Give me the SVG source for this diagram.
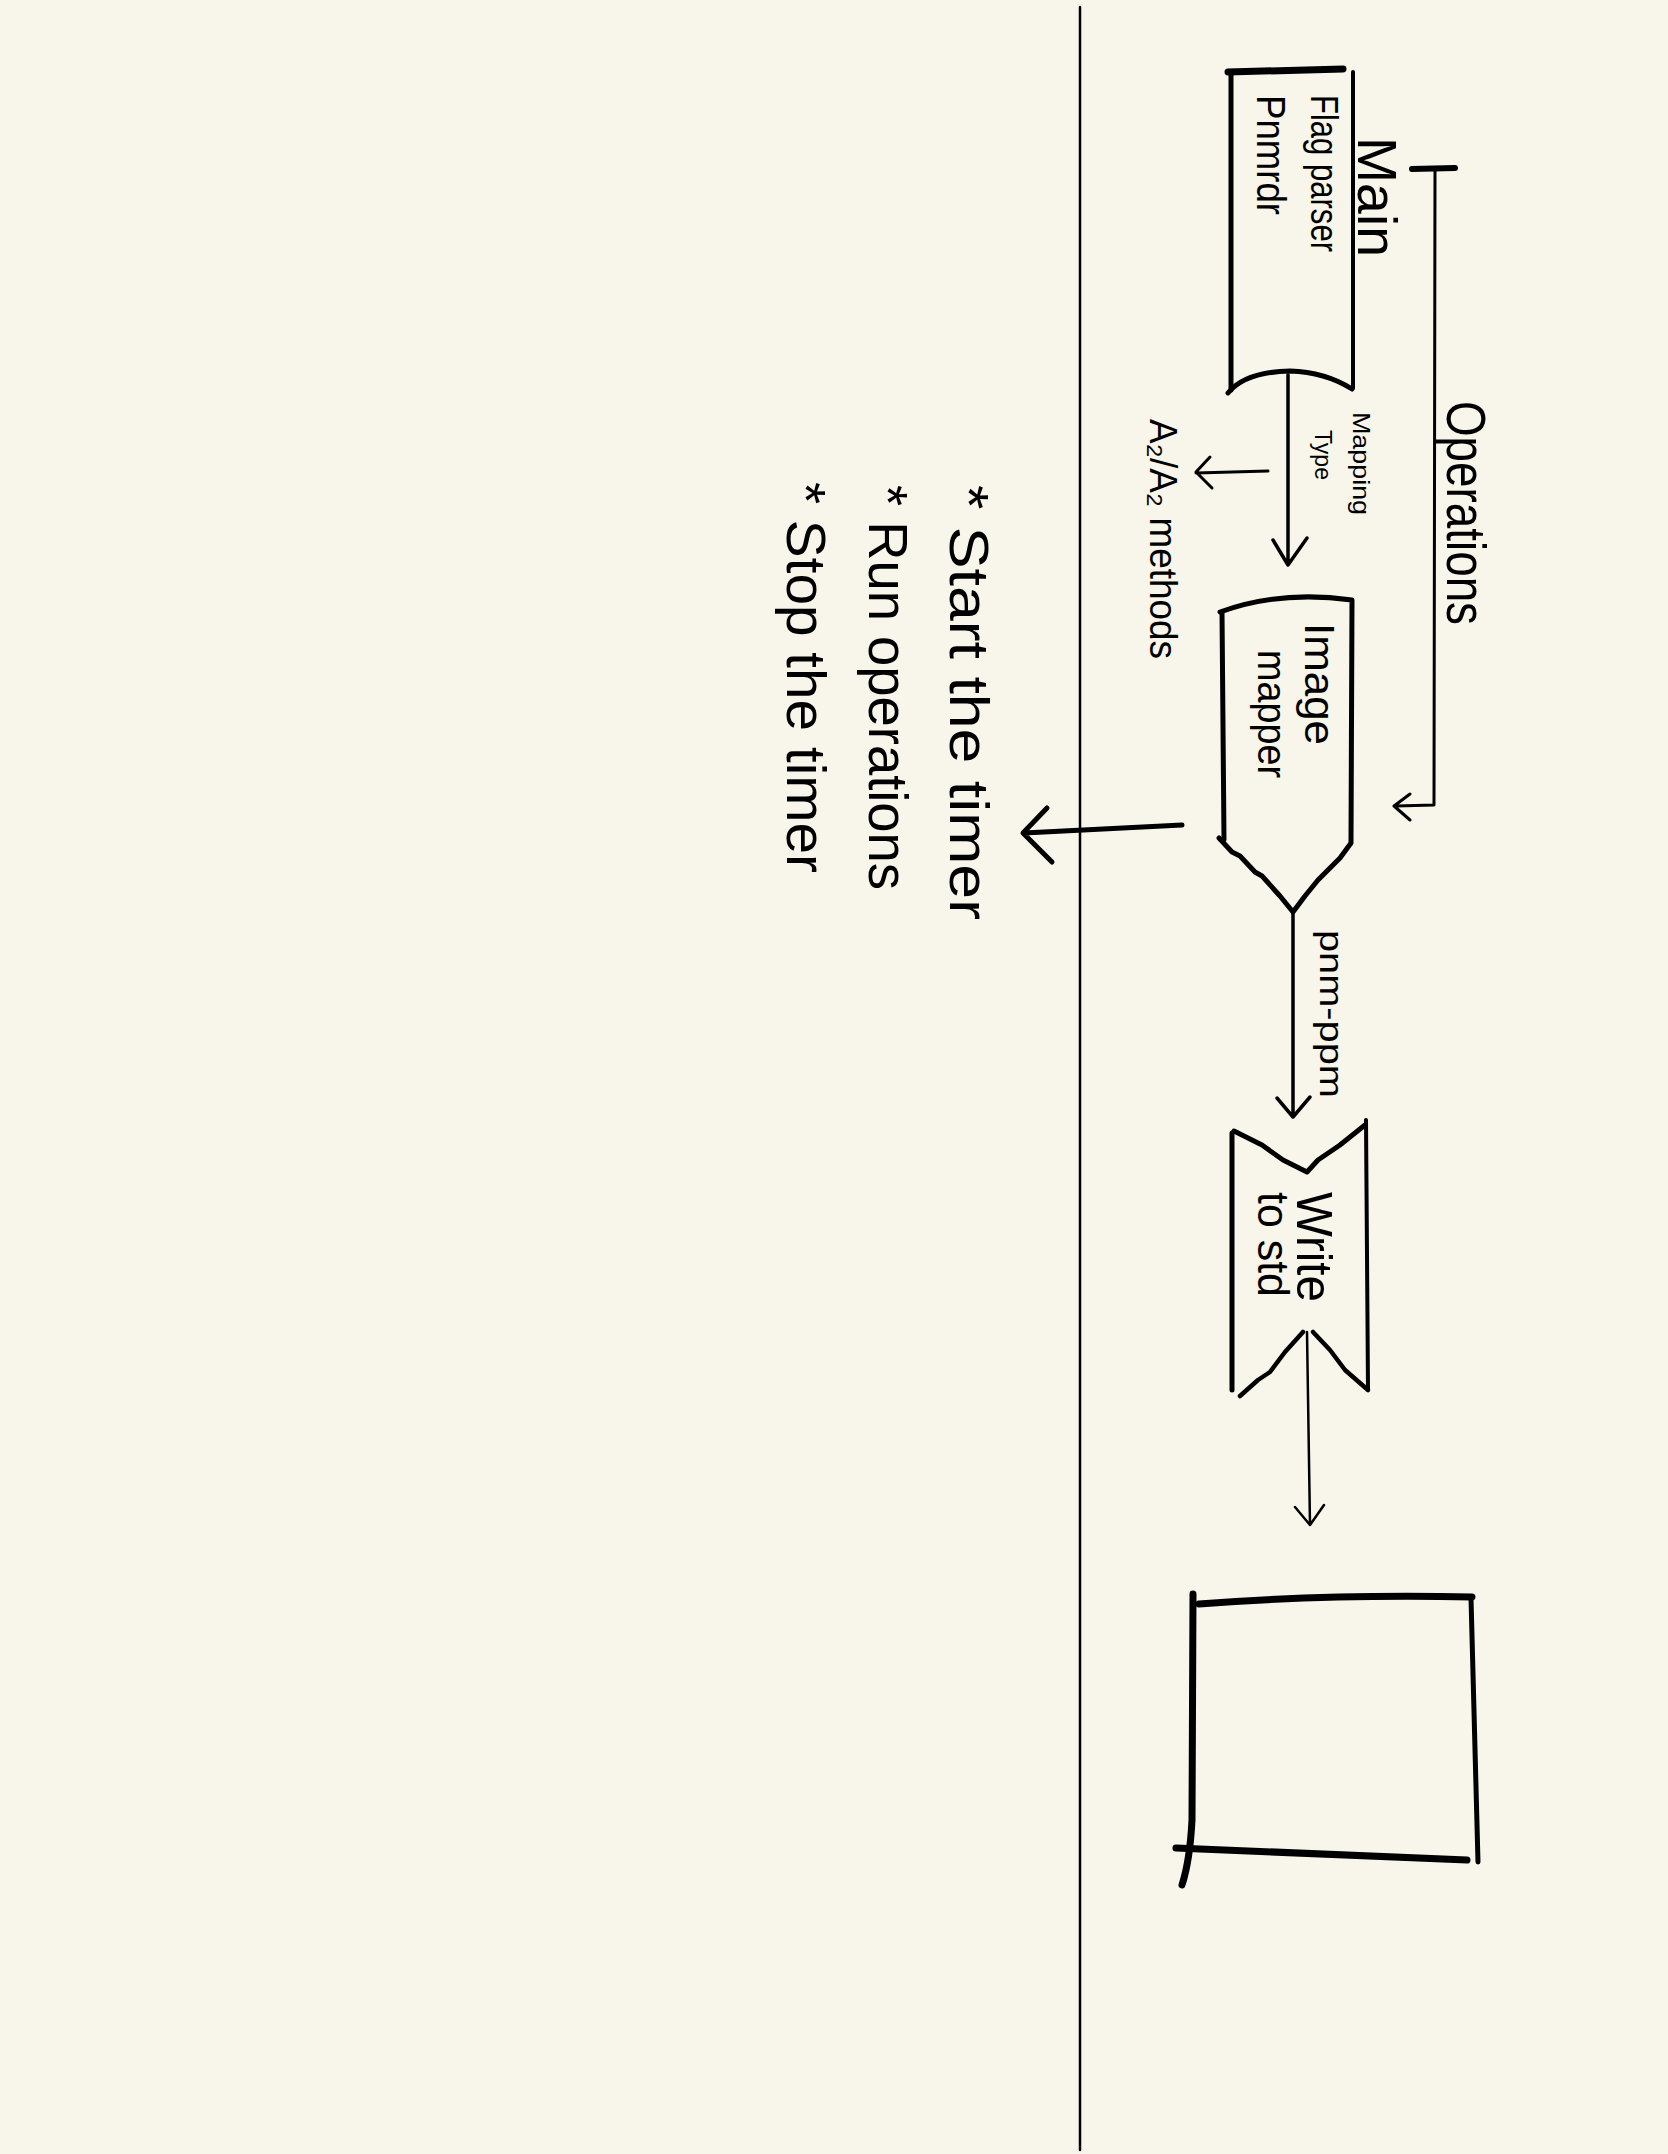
<svg xmlns="http://www.w3.org/2000/svg" width="1668" height="2154" viewBox="0 0 1668 2154">
<style>
.ln{fill:none;stroke:#000;stroke-linecap:round;stroke-linejoin:round}
.t{font-family:"Liberation Sans","DejaVu Sans",sans-serif;fill:#000}
</style>
<rect x="0" y="0" width="1668" height="2154" fill="#F8F5EA"/>
<path class="ln" d="M1080,7 L1080,2150" stroke-width="2.5"/>

<g id="main">
<path class="ln" d="M1228,72 L1343,69" stroke-width="7"/>
<path class="ln" d="M1353,72 L1353,388" stroke-width="4"/>
<path class="ln" d="M1231,72 L1231,390" stroke-width="5"/>
<path class="ln" d="M1228,393 Q1245,372 1290,371 Q1325,372 1352,389" stroke-width="5"/>
<text class="t" font-size="56" transform="translate(1358,137) rotate(90)" textLength="120" lengthAdjust="spacingAndGlyphs">Main</text>
<text class="t" font-size="38" transform="translate(1311,95) rotate(90)" textLength="157" lengthAdjust="spacingAndGlyphs">Flag parser</text>
<text class="t" font-size="40" transform="translate(1257,95) rotate(90)" textLength="120" lengthAdjust="spacingAndGlyphs">Pnmrdr</text>
</g>

<g id="image-mapper">
<path class="ln" d="M1220,612 Q1280,590 1352,600 L1351,843 L1340,858 L1330,868 L1318,880 L1305,896 L1293,912 L1280,896 L1262,876 L1255,872 L1240,856 L1232,852 L1219,838" stroke-width="5"/>
<path class="ln" d="M1222,612 L1224,840" stroke-width="5"/>
<text class="t" font-size="42" transform="translate(1305,623) rotate(90)" textLength="122" lengthAdjust="spacingAndGlyphs">Image</text>
<text class="t" font-size="40" transform="translate(1258,650) rotate(90)" textLength="128" lengthAdjust="spacingAndGlyphs">mapper</text>
</g>

<g id="write-to-std">
<path class="ln" d="M1232,1133 L1232,1390" stroke-width="5"/>
<path class="ln" d="M1366,1120 L1368,1390" stroke-width="4"/>
<path class="ln" d="M1234,1131 L1262,1145 L1283,1160 L1307,1172 L1318,1160 L1340,1145 L1365,1125" stroke-width="5"/>
<path class="ln" d="M1240,1396 L1258,1380 L1270,1372 L1285,1352 L1303,1332" stroke-width="4.5"/>
<path class="ln" d="M1313,1332 L1330,1350 L1345,1370 L1368,1390" stroke-width="4.5"/>
<text class="t" font-size="50" transform="translate(1297,1192) rotate(90)" textLength="110" lengthAdjust="spacingAndGlyphs">Write</text>
<text class="t" font-size="44" transform="translate(1258,1192) rotate(90)" textLength="105" lengthAdjust="spacingAndGlyphs">to std</text>
</g>

<g id="output-box">
<path class="ln" d="M1199,1604 Q1330,1594 1472,1597" stroke-width="7"/>
<path class="ln" d="M1193,1594 L1192,1820 Q1190,1860 1182,1885" stroke-width="7"/>
<path class="ln" d="M1471,1598 L1478,1862" stroke-width="5"/>
<path class="ln" d="M1176,1848 L1467,1860" stroke-width="7"/>
</g>

<g id="timer-notes">
<text class="t" font-size="56" transform="translate(950,485) rotate(90)" textLength="435" lengthAdjust="spacingAndGlyphs">* Start  the  timer</text>
<text class="t" font-size="56" transform="translate(869,485) rotate(90)" textLength="405" lengthAdjust="spacingAndGlyphs">* Run  operations</text>
<text class="t" font-size="56" transform="translate(787,482) rotate(90)" textLength="391" lengthAdjust="spacingAndGlyphs">* Stop the timer</text>
</g>

<g id="connectors">
<path class="ln" d="M1288,375 L1288,565 M1273,540 L1288,565 L1307,538" stroke-width="3.5"/>
<text class="t" font-size="24" transform="translate(1353,412) rotate(90)" textLength="103" lengthAdjust="spacingAndGlyphs">Mapping</text>
<text class="t" font-size="24" transform="translate(1315,430) rotate(90)" textLength="50" lengthAdjust="spacingAndGlyphs">Type</text>
<path class="ln" d="M1268,471 L1196,473 M1210,457 L1196,472 L1212,488" stroke-width="3"/>
<text class="t" font-size="38" transform="translate(1150,419) rotate(90)" textLength="240" lengthAdjust="spacingAndGlyphs">A₂/A₂ methods</text>
<path class="ln" d="M1412,169 L1455,168" stroke-width="6"/>
<path class="ln" d="M1435,169 L1434,805 L1396,806 M1410,794 L1394,806 L1410,820" stroke-width="3"/>
<text class="t" font-size="56" transform="translate(1447,401) rotate(90)" textLength="224" lengthAdjust="spacingAndGlyphs">Operations</text>
<path class="ln" d="M1182,825 L1024,833 M1047,808 L1023,833 L1052,862" stroke-width="5"/>
<path class="ln" d="M1293,912 L1293,1117 M1277,1098 L1293,1117 L1310,1097" stroke-width="3.5"/>
<text class="t" font-size="34" transform="translate(1320,930) rotate(90)" textLength="168" lengthAdjust="spacingAndGlyphs">pnm-ppm</text>
<path class="ln" d="M1307,1332 L1310,1525 M1295,1507 L1310,1525 L1324,1505" stroke-width="2.5"/>
</g>
</svg>
